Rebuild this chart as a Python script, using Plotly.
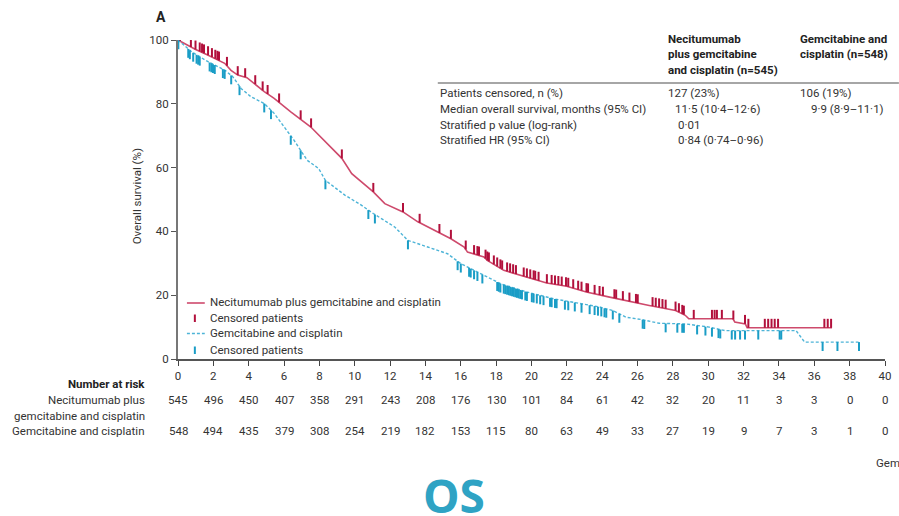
import numpy as np
import plotly.graph_objects as go

# Kaplan-Meier curves (months, overall survival %)
neci_t = [0, 0.5, 1.0, 1.68, 2.64, 3.0, 3.38, 3.9, 4.32, 4.88, 5.44, 6.38, 7.5, 7.96, 8.43,
          9.27, 9.83, 10.4, 11.05, 11.7, 12.73, 13.57, 14.69, 15.44, 16.19, 16.38, 17.31, 17.5,
          18.43, 19.37, 20.86, 21.99, 23.1, 24.42, 25.72, 26.66, 28.15, 28.7, 28.9, 31.4, 31.5,
          32.1, 32.2, 37.0]
neci_s = [100, 98.5, 97.0, 95.3, 92.7, 90.5, 89.0, 88.2, 86.4, 83.8, 81.7, 77.5, 72.8, 70.2, 67.6,
          62.9, 58.1, 55.5, 52.4, 48.7, 46.1, 43.0, 39.8, 37.7, 35.1, 33.5, 32.0, 30.9,
          27.8, 26.2, 23.8, 22.8, 21.0, 19.4, 17.8, 16.8, 15.2, 13.7, 12.6, 12.6, 11.6,
          11.0, 9.8, 9.8]

gem_t = [0, 0.77, 1.7, 2.64, 3.1, 3.57, 4.13, 4.88, 5.44, 6.0, 6.56, 7.31, 7.96, 8.34, 9.46,
         10.3, 11.05, 12.26, 13.0, 14.13, 15.25, 16.0, 16.75, 17.5, 18.25, 19.74, 21.24, 22.36,
         23.85, 24.6, 25.35, 26.29, 27.22, 28.7, 30.05, 30.96, 34.97, 35.45, 38.5]
gem_s = [100, 96.3, 93.2, 90.6, 88.5, 84.8, 82.2, 80.1, 77.0, 72.8, 68.6, 62.3, 59.7, 56.0, 51.3,
         48.5, 45.6, 41.4, 37.2, 35.1, 33.0, 29.9, 27.8, 25.7, 23.6, 21.0, 18.9, 17.8,
         16.3, 15.2, 13.1, 12.3, 11.2, 11.0, 10.0, 8.9, 8.9, 5.3, 5.3]

# Censoring times (months)
neci_cens = [0.11, 0.73, 0.99, 1.23, 1.36, 1.47, 1.7, 1.92, 2.11, 2.23, 2.32, 2.77, 3.38, 3.8,
             4.37, 4.79, 5.07, 5.72, 6.94, 7.53, 9.27, 11.05, 12.73, 13.67, 14.79, 15.44, 16.28,
             16.75, 16.94, 17.03, 17.40, 17.50, 17.59, 17.87, 18.06, 18.24, 18.34, 18.62, 18.79,
             18.96, 19.12, 19.56, 19.74, 19.93, 20.12, 20.21, 20.40, 20.87, 21.14, 21.33, 21.52,
             21.71, 21.95, 22.08, 22.36, 22.64, 22.83, 23.11, 23.20, 23.57, 23.85, 24.04, 24.69,
             24.79, 25.17, 25.54, 25.91, 26.01, 26.85, 27.03, 27.22, 27.41, 27.59, 28.15, 28.34,
             28.53, 28.62, 29.18, 30.21, 30.36, 30.49, 30.77, 31.42, 32.08, 32.27, 33.2, 33.39,
             33.58, 33.76, 33.95, 36.57, 36.76, 36.95]
gem_cens = [0.02, 0.58, 0.67, 0.86, 1.05, 1.14, 1.23, 1.79, 1.89, 1.98, 2.08, 2.54, 2.64, 3.01,
            3.48, 4.88, 5.26, 6.38, 6.94, 8.34, 10.77, 11.14, 13.01, 15.82, 16.0, 16.47, 16.56,
            16.75, 16.94, 17.22, 18.06, 18.15, 18.24, 18.43, 18.52, 18.62, 18.72, 18.81, 18.90,
            19.0, 19.09, 19.18, 19.28, 19.37, 19.46, 19.65, 19.74, 20.02, 20.12, 20.30, 20.49,
            20.68, 21.05, 21.14, 21.33, 21.42, 21.89, 22.08, 22.45, 22.83, 23.29, 23.57, 23.76,
            23.95, 24.13, 24.23, 24.60, 24.97, 26.29, 26.38, 27.59, 28.25, 28.53, 28.62, 29.37,
            29.84, 30.21, 30.58, 30.68, 31.33, 31.52, 31.80, 32.08, 32.83, 34.04, 34.13, 36.47,
            37.31, 38.53]

# Number at risk
risk_times = list(range(0, 41, 2))
risk_neci = [545, 496, 450, 407, 358, 291, 243, 208, 176, 130, 101, 84, 61, 42, 32, 20, 11, 3, 3, 0, 0]
risk_gem = [548, 494, 435, 379, 308, 254, 219, 182, 153, 115, 80, 63, 49, 33, 27, 19, 9, 7, 3, 1, 0]

# Summary table
table_rows = ["Patients censored, n (%)", "Median overall survival, months (95% CI)",
              "Stratified p value (log-rank)", "Stratified HR (95% CI)"]
neci_col = ["127 (23%)", "11·5 (10·4–12·6)", "0·01", "0·84 (0·74–0·96)"]
gem_col = ["106 (19%)", "9·9 (8·9–11·1)", "", ""]

RED_LINE = "#CE4A6C"
RED_TICK = "#B2103C"
BLUE_LINE = "#4DB4D7"
BLUE_TICK = "#1A9DC6"
TEXT = "#333333"
FONT = "Roboto"
FS = 11.5

W, H = 899, 516
L, R, T, B = 178, 8, 40, 157
PW, PH = W - L - R, H - T - B


def px(x):
    return (x - L) / PW


def py(y):
    return (H - B - y) / PH


fig = go.Figure()

fig.add_trace(go.Scatter(x=neci_t, y=neci_s, mode="lines",
                         line=dict(color=RED_LINE, width=1.6), cliponaxis=False,
                         showlegend=False, hoverinfo="skip"))
fig.add_trace(go.Scatter(x=gem_t, y=gem_s, mode="lines",
                         line=dict(color=BLUE_LINE, width=1.4, dash="3px,2px"), cliponaxis=False,
                         showlegend=False, hoverinfo="skip"))

# censoring marks: short vertical ticks sitting on each curve
fig.add_trace(go.Scatter(
    x=neci_cens, y=np.interp(neci_cens, neci_t, neci_s), mode="markers",
    marker=dict(size=1, color="rgba(0,0,0,0)"), cliponaxis=False, showlegend=False,
    error_y=dict(type="constant", value=2.8, valueminus=0, symmetric=False,
                 width=0, thickness=2, color=RED_TICK)))
fig.add_trace(go.Scatter(
    x=gem_cens, y=np.interp(gem_cens, gem_t, gem_s), mode="markers",
    marker=dict(size=1, color="rgba(0,0,0,0)"), cliponaxis=False, showlegend=False,
    error_y=dict(type="constant", value=0, valueminus=2.8, symmetric=False,
                 width=0, thickness=2, color=BLUE_TICK)))

ann = []
shapes = []

# panel letter and y title
ann.append(dict(x=px(161), y=py(17), text="<b>A</b>", font=dict(size=14, color="#222")))
ann.append(dict(x=px(137), y=py(196), text="Overall survival (%)", textangle=-90,
                font=dict(size=FS, color=TEXT)))

# legend
shapes.append(dict(type="line", xref="paper", yref="paper", x0=px(187), x1=px(205),
                   y0=py(303), y1=py(303), line=dict(color=RED_LINE, width=1.6)))
shapes.append(dict(type="line", xref="paper", yref="paper", x0=px(195), x1=px(195),
                   y0=py(314.5), y1=py(322), line=dict(color=RED_TICK, width=2)))
shapes.append(dict(type="line", xref="paper", yref="paper", x0=px(187), x1=px(205),
                   y0=py(333.5), y1=py(333.5), line=dict(color=BLUE_LINE, width=1.4, dash="3px,2px")))
shapes.append(dict(type="line", xref="paper", yref="paper", x0=px(195), x1=px(195),
                   y0=py(346.5), y1=py(354), line=dict(color=BLUE_TICK, width=2)))
for yy, txt in [(302, "Necitumumab plus gemcitabine and cisplatin"), (318, "Censored patients"),
                (333, "Gemcitabine and cisplatin"), (350, "Censored patients")]:
    ann.append(dict(x=px(208), y=py(yy), text=txt, xanchor="left", font=dict(size=FS, color=TEXT)))

# summary table
for i, line in enumerate(["Necitumumab", "plus gemcitabine", "and cisplatin (n=545)"]):
    ann.append(dict(x=px(670), y=py(39 + 15.5 * i), text=f"<b>{line}</b>", xanchor="left",
                    font=dict(size=FS, color="#222")))
for i, line in enumerate(["Gemcitabine and", "cisplatin (n=548)"]):
    ann.append(dict(x=px(803), y=py(39 + 15.5 * i), text=f"<b>{line}</b>", xanchor="left",
                    font=dict(size=FS, color="#222")))
shapes.append(dict(type="line", xref="paper", yref="paper", x0=px(440), x1=px(905),
                   y0=py(83), y1=py(83), line=dict(color="#888", width=1.5)))
row_y = [93, 109, 125, 140]
neci_x = [670, 677, 680, 680]
gem_x = [803, 814, 814, 814]
for i in range(4):
    ann.append(dict(x=px(440), y=py(row_y[i]), text=table_rows[i], xanchor="left",
                    font=dict(size=FS, color=TEXT)))
    ann.append(dict(x=px(neci_x[i]), y=py(row_y[i]), text=neci_col[i], xanchor="left",
                    font=dict(size=FS, color=TEXT)))
    if gem_col[i]:
        ann.append(dict(x=px(gem_x[i]), y=py(row_y[i]), text=gem_col[i], xanchor="left",
                        font=dict(size=FS, color=TEXT)))

# number at risk
ann.append(dict(x=px(147), y=py(384), text="<b>Number at risk</b>", xanchor="right",
                font=dict(size=FS, color="#222")))
ann.append(dict(x=px(147), y=py(400), text="Necitumumab plus", xanchor="right",
                font=dict(size=FS, color=TEXT)))
ann.append(dict(x=px(147), y=py(416), text="gemcitabine and cisplatin", xanchor="right",
                font=dict(size=FS, color=TEXT)))
ann.append(dict(x=px(147), y=py(431), text="Gemcitabine and cisplatin", xanchor="right",
                font=dict(size=FS, color=TEXT)))
for t, a, b in zip(risk_times, risk_neci, risk_gem):
    ann.append(dict(x=t, xref="x", y=py(400), text=str(a), font=dict(size=FS, color=TEXT)))
    ann.append(dict(x=t, xref="x", y=py(431), text=str(b), font=dict(size=FS, color=TEXT)))

ann.append(dict(x=px(880), y=py(463), text="Gemcitabine and cisplatin", xanchor="left",
                font=dict(size=FS, color=TEXT)))

# big caption
ann.append(dict(x=px(456), y=py(495), text="<b>OS</b>",
                font=dict(size=46, color="#2FA3C4", family="Open Sans")))

for a in ann:
    a.setdefault("xref", "paper")
    a.setdefault("yref", "paper")
    a.setdefault("xanchor", "center")
    a.setdefault("yanchor", "middle")
    a.setdefault("showarrow", False)

fig.update_layout(
    width=W, height=H,
    margin=dict(l=L, r=R, t=T, b=B),
    paper_bgcolor="white", plot_bgcolor="white",
    font=dict(family=FONT, size=FS, color=TEXT),
    showlegend=False,
    annotations=ann, shapes=shapes,
    xaxis=dict(range=[0, 40], tickvals=risk_times, ticks="outside", ticklen=5, tickwidth=1.2,
               tickcolor="#444", showline=True, linecolor="#555", linewidth=1.5,
               showgrid=False, zeroline=False, tickfont=dict(size=FS, color=TEXT)),
    yaxis=dict(range=[0, 100], tickvals=[0, 20, 40, 60, 80, 100], ticks="outside", ticklen=5,
               tickwidth=1.2, tickcolor="#555", showline=True, linecolor="#777", linewidth=2,
               showgrid=False, zeroline=False, tickfont=dict(size=FS, color=TEXT)),
)

fig.write_html("out.html")
